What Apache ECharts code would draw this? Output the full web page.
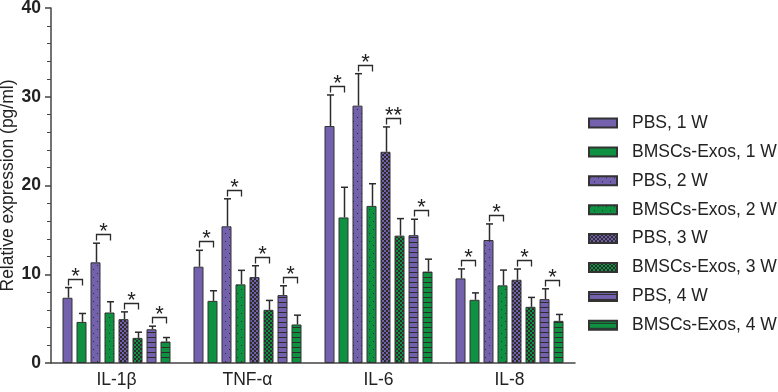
<!DOCTYPE html>
<html>
<head>
<meta charset="utf-8">
<script src="https://cdn.jsdelivr.net/npm/echarts@6/dist/echarts.min.js"></script>
<style>
  html, body { margin: 0; padding: 0; background: #fff; }
  #chart { width: 778px; height: 392px; }
</style>
</head>
<body>
<div id="chart"></div>
<script>
// cytokine levels, mean + SD

const categories = ["IL-1β", "TNF-α", "IL-6", "IL-8"];

const seriesNames = [
    "PBS, 1 W", "BMSCs-Exos, 1 W",
    "PBS, 2 W", "BMSCs-Exos, 2 W",
    "PBS, 3 W", "BMSCs-Exos, 3 W",
    "PBS, 4 W", "BMSCs-Exos, 4 W"
];

const pbs1W = [7.35, 10.85, 26.7, 9.53];
const exos1W = [4.63, 7.0, 16.4, 7.12];
const pbs2W = [11.34, 15.4, 29.0, 13.86];
const exos2W = [5.69, 8.86, 17.7, 8.75];
const pbs3W = [4.94, 9.68, 23.8, 9.38];
const exos3W = [2.83, 5.99, 14.35, 6.33];
const pbs4W = [3.8, 7.65, 14.4, 7.2];
const exos4W = [2.42, 4.34, 10.3, 4.75];

const pbs1Sd = [1.15, 1.85, 3.5, 1.07];
const exos1Sd = [0.95, 1.14, 3.4, 0.78];
const pbs2Sd = [2.16, 3.1, 3.6, 1.81];
const exos2Sd = [1.21, 1.58, 2.5, 1.72];
const pbs3Sd = [0.82, 1.28, 2.8, 1.21];
const exos3Sd = [0.64, 1.06, 1.92, 1.06];
const pbs4Sd = [0.35, 1.05, 1.8, 1.16];
const exos4Sd = [0.45, 1.05, 1.4, 0.72];

// one entry per category, one mark per PBS/Exos pair (1..4 W)
const sigMarks = [
    ["*", "*", "*", "*"],
    ["*", "*", "*", "*"],
    ["*", "*", "**", "*"],
    ["*", "*", "*", "*"]
];

const yTicks = [0, 10, 20, 30, 40];

const means = [pbs1W, exos1W, pbs2W, exos2W, pbs3W, exos3W, pbs4W, exos4W];
const sds = [pbs1Sd, exos1Sd, pbs2Sd, exos2Sd, pbs3Sd, exos3Sd, pbs4Sd, exos4Sd];

const PURPLE = "#7461ae";
const GREEN = "#0f9142";
const INK = "#2b2b2b";
const FONT = "Liberation Sans, Arial, sans-serif";

const BAR_W = 10;
const STEP = 14; // bar width + gap

function makePattern(base, kind) {
    if (kind === "solid") return base;
    const c = document.createElement("canvas");
    const ctx = c.getContext("2d");
    if (kind === "dots") {
        c.width = 8; c.height = 8;
        ctx.fillStyle = base; ctx.fillRect(0, 0, 8, 8);
        ctx.fillStyle = INK;
        ctx.fillRect(1, 1, 1, 1);
        ctx.fillRect(5, 5, 1, 1);
    } else if (kind === "checker") {
        c.width = 4; c.height = 4;
        ctx.fillStyle = base; ctx.fillRect(0, 0, 4, 4);
        ctx.fillStyle = INK;
        ctx.fillRect(0, 0, 2, 2);
        ctx.fillRect(2, 2, 2, 2);
    } else {
        c.width = 4; c.height = 5;
        ctx.fillStyle = base; ctx.fillRect(0, 0, 4, 5);
        ctx.fillStyle = INK;
        ctx.fillRect(0, 2, 4, 1);
    }
    return { image: c, repeat: "repeat" };
}

const kinds = ["solid", "solid", "dots", "dots", "checker", "checker", "stripes", "stripes"];

const barSeries = seriesNames.map((name, i) => ({
    name,
    type: "bar",
    data: means[i],
    barWidth: BAR_W,
    barGap: "40%",
    z: 2,
    itemStyle: {
        color: makePattern(i % 2 === 0 ? PURPLE : GREEN, kinds[i]),
        borderColor: "#333",
        borderWidth: 1
    },
    emphasis: { disabled: true }
}));

const errData = [];
means.forEach((arr, s) => arr.forEach((m, c) => errData.push([c, s, m, sds[s][c]])));

const sigData = [];
sigMarks.forEach((row, c) => row.forEach((label, p) => sigData.push([c, p, label])));

const chart = echarts.init(document.getElementById("chart"));

chart.setOption({
    animation: false,
    backgroundColor: "#fff",
    textStyle: { fontFamily: FONT },
    grid: { left: 51, right: 203, top: 8, bottom: 29, containLabel: false, outerBoundsMode: "none" },
    legend: {
        data: seriesNames,
        orient: "vertical",
        left: 588,
        top: 113,
        padding: 0,
        itemWidth: 28,
        itemHeight: 9,
        itemGap: 8.9,
        icon: "rect",
        selectedMode: false,
        textStyle: { fontSize: 17.5, color: "#222", lineHeight: 20, padding: [0, 0, 0, 10], fontFamily: FONT }
    },
    xAxis: {
        type: "category",
        data: categories,
        axisLine: { lineStyle: { color: "#444", width: 1.5 } },
        axisTick: { alignWithLabel: true, length: 5, lineStyle: { color: "#444", width: 1.5 } },
        axisLabel: { fontSize: 17.5, color: "#222", margin: 8, fontFamily: FONT }
    },
    yAxis: {
        type: "value",
        min: yTicks[0],
        max: yTicks[yTicks.length - 1],
        interval: 10,
        name: "Relative expression (pg/ml)",
        nameLocation: "middle",
        nameGap: 34,
        nameMoveOverlap: false,
        nameTextStyle: { fontSize: 17.5, color: "#222", fontFamily: FONT },
        axisLine: { show: true, lineStyle: { color: "#444", width: 1.5 } },
        axisTick: { show: true, length: 6, lineStyle: { color: "#444", width: 1.5 } },
        minorTick: { show: true, splitNumber: 5, length: 4, lineStyle: { color: "#444", width: 1 } },
        splitLine: { show: false },
        axisLabel: { fontSize: 17.5, fontWeight: "bold", color: "#222", margin: 10, fontFamily: FONT }
    },
    series: barSeries.concat([
        {
            type: "custom",
            name: "err",
            data: errData,
            z: 3,
            silent: true,
            encode: { x: 0, y: 2 },
            renderItem: (params, api) => {
                const c = api.value(0), s = api.value(1);
                const m = api.value(2), sd = api.value(3);
                const top = api.coord([c, m]);
                const cap = api.coord([c, m + sd]);
                const x = Math.round(top[0] + (s - 3.5) * STEP) + 0.5;
                const st = { stroke: INK, lineWidth: 1.5 };
                return {
                    type: "group",
                    children: [
                        { type: "line", shape: { x1: x, y1: top[1], x2: x, y2: cap[1] }, style: st },
                        { type: "line", shape: { x1: x - 3.5, y1: cap[1], x2: x + 3.5, y2: cap[1] }, style: st }
                    ]
                };
            }
        },
        {
            type: "custom",
            name: "sig",
            data: sigData,
            z: 3,
            silent: true,
            encode: { x: 0 },
            renderItem: (params, api) => {
                const c = api.value(0), p = api.value(1);
                const label = sigData[params.dataIndex][2];
                const a = 2 * p, b = 2 * p + 1;
                const ya = api.coord([c, means[a][c] + sds[a][c]]);
                const yb = api.coord([c, means[b][c] + sds[b][c]]);
                const y = Math.round(Math.min(ya[1], yb[1]) - 9) + 0.5;
                const x1 = Math.round(ya[0] + (a - 3.5) * STEP) + 0.5;
                const x2 = Math.round(ya[0] + (b - 3.5) * STEP) + 0.5;
                const st = { stroke: INK, lineWidth: 1.3, fill: null };
                return {
                    type: "group",
                    children: [
                        { type: "polyline", shape: { points: [[x1, y + 6], [x1, y], [x2, y], [x2, y + 6]] }, style: st },
                        {
                            type: "text",
                            style: {
                                text: label, x: (x1 + x2) / 2, y: y - 2.5,
                                align: "center", verticalAlign: "middle",
                                fontSize: 22, fill: "#222", fontFamily: FONT
                            }
                        }
                    ]
                };
            }
        }
    ])
});

window.addEventListener("resize", () => chart.resize());
</script>
</body>
</html>
